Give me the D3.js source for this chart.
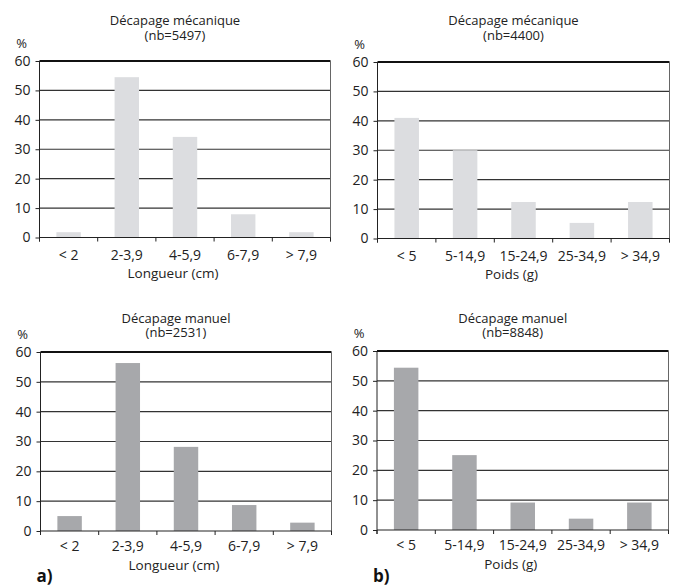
<!DOCTYPE html>
<html>
<head>
<meta charset="utf-8">
<script src="https://cdn.jsdelivr.net/npm/d3@7"></script>
<style>
  body { margin: 0; background: #fff; }
  svg { display: block; font-family: "Open Sans", sans-serif; }
</style>
</head>
<body>
<svg id="chart" width="679" height="586"></svg>
<script>
// categories
var lengthCats = ["< 2", "2-3,9", "4-5,9", "6-7,9", "> 7,9"];
var weightCats = ["< 5", "5-14,9", "15-24,9", "25-34,9", "> 34,9"];
var yTicks = [0, 10, 20, 30, 40, 50, 60];

// values (%)
var lengthMeca = [1.8, 54.5, 34.2, 7.9, 1.8];
var weightMeca = [41.0, 30.0, 12.4, 5.3, 12.4];
var lengthManuel = [5.0, 56.3, 28.2, 8.7, 2.8];
var weightManuel = [54.4, 25.1, 9.2, 3.8, 9.2];

var svg = d3.select("#chart");

// one panel = one bar chart
function drawPanel(opts) {
    var g = svg.append("g");
    var x = d3.scaleBand()
        .domain(opts.cats)
        .range([opts.left, opts.right])
        .paddingInner(0.58)
        .paddingOuter(0.29);
    var y = d3.scaleLinear().domain([0, 60]).range([opts.bottom, opts.top]);
    var step = x.step();

    // gridlines
    g.selectAll("line.grid")
        .data(yTicks.filter(function (d) { return d > 0; }))
        .enter().append("line")
        .attr("x1", opts.left).attr("x2", opts.right)
        .attr("y1", function (d) { return y(d); })
        .attr("y2", function (d) { return y(d); })
        .attr("stroke", function (d) { return d === 60 ? "#111" : "#333"; })
        .attr("stroke-width", function (d) { return d === 60 ? 2 : 1.2; });

    // right border
    g.append("line")
        .attr("x1", opts.right).attr("x2", opts.right)
        .attr("y1", y(60)).attr("y2", opts.bottom + 4)
        .attr("stroke", "#666").attr("stroke-width", 1);

    // bars
    g.selectAll("rect")
        .data(opts.values)
        .enter().append("rect")
        .attr("x", function (d, i) { return x(opts.cats[i]); })
        .attr("y", function (d) { return y(d); })
        .attr("width", x.bandwidth())
        .attr("height", function (d) { return opts.bottom - y(d); })
        .attr("fill", opts.color);

    // y axis
    var yAxis = d3.axisLeft(y).tickValues(yTicks).tickSize(4).tickPadding(5);
    var ya = g.append("g").attr("transform", "translate(" + opts.left + ",0)").call(yAxis);
    ya.select(".domain").attr("stroke", "#222").attr("d", "M0," + y(60) + "V" + (opts.bottom + 4));
    ya.selectAll(".tick line").attr("stroke", "#222");
    ya.selectAll("text").attr("fill", "#222").style("font-size", "14px").style("font-family", "Open Sans");

    // x axis line + boundary ticks
    g.append("line")
        .attr("x1", opts.left).attr("x2", opts.right)
        .attr("y1", opts.bottom).attr("y2", opts.bottom)
        .attr("stroke", "#222").attr("stroke-width", 1);
    g.selectAll("line.xt")
        .data(d3.range(opts.cats.length + 1))
        .enter().append("line")
        .attr("x1", function (i) { return opts.left + i * step; })
        .attr("x2", function (i) { return opts.left + i * step; })
        .attr("y1", opts.bottom).attr("y2", opts.bottom + 4)
        .attr("stroke", "#222");

    // category labels
    g.selectAll("text.cat")
        .data(opts.cats)
        .enter().append("text")
        .attr("x", function (d) { return x(d) + x.bandwidth() / 2; })
        .attr("y", opts.bottom + opts.catDy)
        .attr("text-anchor", "middle")
        .attr("fill", "#222")
        .style("font-size", "14px")
        .text(function (d) { return d; });

    var cx = (opts.left + opts.right) / 2;

    // axis title
    g.append("text")
        .attr("x", cx - 12)
        .attr("y", opts.bottom + opts.titleDy)
        .attr("text-anchor", "middle")
        .attr("fill", "#222")
        .style("font-size", "13.5px")
        .text(opts.xTitle);

    // chart title (two lines)
    g.append("text")
        .attr("x", cx - 10).attr("y", opts.titleY)
        .attr("text-anchor", "middle").attr("fill", "#222")
        .style("font-size", "13px")
        .text(opts.title);
    g.append("text")
        .attr("x", cx - 10).attr("y", opts.titleY + opts.lineGap)
        .attr("text-anchor", "middle").attr("fill", "#222")
        .style("font-size", "13px")
        .text(opts.subtitle);

    // unit
    g.append("text")
        .attr("x", opts.left - 18).attr("y", opts.top - 13)
        .attr("text-anchor", "middle").attr("fill", "#222")
        .style("font-size", "13px")
        .text("%");

    if (opts.tag) {
        g.append("text")
            .attr("x", opts.left - 4).attr("y", 582)
            .attr("fill", "#111")
            .style("font-size", "17px").style("font-weight", "bold")
            .text(opts.tag);
    }
}

drawPanel({ cats: lengthCats, values: lengthMeca, color: "#dcdde0",
    left: 39.5, right: 330.5, top: 61, bottom: 237.5,
    title: "Décapage mécanique", subtitle: "(nb=5497)", titleY: 24.5, lineGap: 15,
    xTitle: "Longueur (cm)", catDy: 22, titleDy: 40 });

drawPanel({ cats: weightCats, values: weightMeca, color: "#dcdde0",
    left: 377.5, right: 669.5, top: 62, bottom: 238.5,
    title: "Décapage mécanique", subtitle: "(nb=4400)", titleY: 24.5, lineGap: 15,
    xTitle: "Poids (g)", catDy: 22, titleDy: 40 });

drawPanel({ cats: lengthCats, values: lengthManuel, color: "#a7a8ab",
    left: 40.5, right: 331.5, top: 352, bottom: 531,
    title: "Décapage manuel", subtitle: "(nb=2531)", titleY: 323, lineGap: 14,
    xTitle: "Longueur (cm)", catDy: 20, titleDy: 39, tag: "a)" });

drawPanel({ cats: weightCats, values: weightManuel, color: "#a7a8ab",
    left: 377, right: 668.5, top: 351, bottom: 530,
    title: "Décapage manuel", subtitle: "(nb=8848)", titleY: 323, lineGap: 14,
    xTitle: "Poids (g)", catDy: 20, titleDy: 39, tag: "b)" });
</script>
</body>
</html>
